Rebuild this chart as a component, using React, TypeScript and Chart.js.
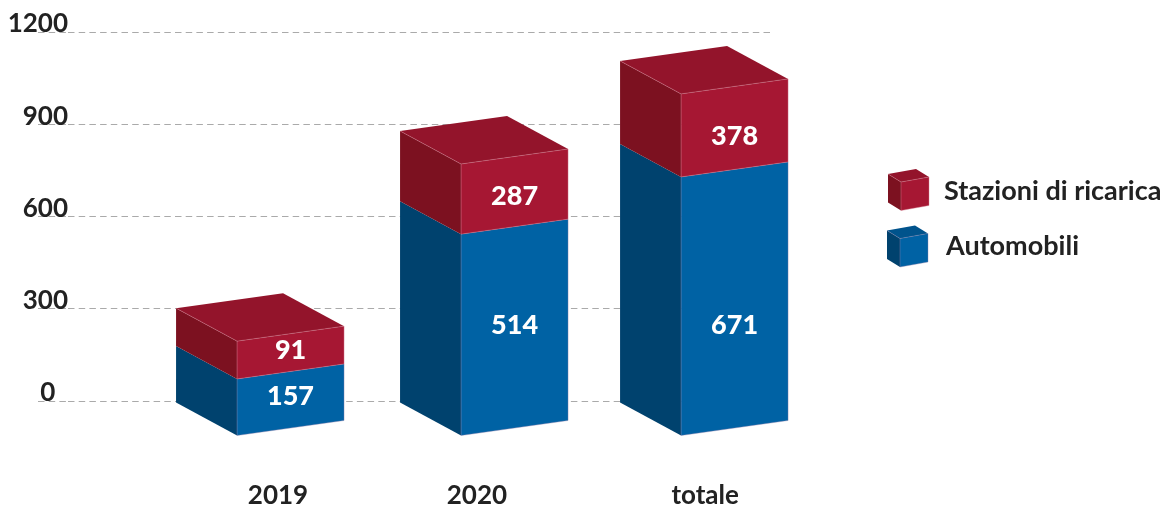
import React, { useEffect, useRef } from "react";
import { Chart, registerables } from "chart.js";

Chart.register(...registerables);

// Category names and where each box / caption sits on the index axis
const categories = ["2019", "2020", "totale"];
const boxPositions = [0, 1.009, 2];
const captionPositions = [0.081, 0.977, 2.005];

// Segment heights as drawn, read against the picture's value axis
const automobiliHeights = [179, 650, 836];
const stazioniHeights = [123, 228, 270];

// Numbers printed on the front faces
const automobiliPrinted = ["157", "514", "671"];
const stazioniPrinted = ["91", "287", "378"];

// Vertical nudge of each printed number from its face centre, in pixels
const automobiliNudge = [-3, -2, 27];
const stazioniNudge = [-2.5, 4.5, 8];

const yTicks = [0, 300, 600, 900, 1200];

const FONT = "Lato";
const TEXT = "#222222";
const palette = {
  Automobili: { front: "#0062a4", side: "#00426e", top: "#00538c", edge: "rgba(150,130,170,0.55)" },
  "Stazioni di ricarica": { front: "#a61733", side: "#7c1120", top: "#93142b", edge: "rgba(215,130,150,0.6)" },
};

type P = [number, number];
function face(ctx: CanvasRenderingContext2D, pts: P[], fill: string) {
  ctx.beginPath();
  pts.forEach((p, i) => (i ? ctx.lineTo(p[0], p[1]) : ctx.moveTo(p[0], p[1])));
  ctx.closePath();
  ctx.fillStyle = fill;
  ctx.fill();
}

function prism(
  ctx: CanvasRenderingContext2D,
  left: number,
  top: number,
  bottom: number,
  d: P,
  w: P,
  c: { front: string; side: string; top: string; edge: string },
  withTop: boolean
) {
  const a: P = [left, top];
  const f: P = [left + d[0], top + d[1]];
  const fb: P = [left + d[0], bottom + d[1]];
  const r: P = [f[0] + w[0], f[1] + w[1]];
  const rb: P = [fb[0] + w[0], fb[1] + w[1]];
  const b: P = [left + w[0], top + w[1]];
  face(ctx, [a, f, fb, [left, bottom]], c.side);
  face(ctx, [f, r, rb, fb], c.front);
  if (withTop) face(ctx, [a, f, r, b], c.top);
  ctx.beginPath();
  ctx.moveTo(fb[0], fb[1]);
  ctx.lineTo(rb[0], rb[1]);
  ctx.lineTo(r[0], r[1]);
  ctx.moveTo(f[0], f[1]);
  ctx.lineTo(fb[0], fb[1]);
  if (withTop) {
    ctx.moveTo(a[0], a[1]);
    ctx.lineTo(f[0], f[1]);
    ctx.lineTo(r[0], r[1]);
  }
  ctx.strokeStyle = c.edge;
  ctx.lineWidth = 0.7;
  ctx.stroke();
}

const DEPTH: P = [61, 33];
const WIDE: P = [107, -15];
const GROUND_DROP = 2;

const boxesPlugin = {
  id: "boxes",
  beforeDatasetsDraw(chart: any) {
    const ctx: CanvasRenderingContext2D = chart.ctx;
    ctx.save();
    const bottomOf = (di: number, el: any) => el.base + (di === 0 ? GROUND_DROP : 0);
    chart.data.datasets.forEach((ds: any, di: number) => {
      const c = (palette as any)[ds.label];
      chart.getDatasetMeta(di).data.forEach((el: any) => {
        prism(ctx, el.x - el.width / 2, el.y, bottomOf(di, el), DEPTH, WIDE, c, di === chart.data.datasets.length - 1);
      });
    });
    ctx.textAlign = "center";
    ctx.textBaseline = "middle";
    ctx.font = `900 27px ${FONT}`;
    ctx.fillStyle = "#ffffff";
    chart.data.datasets.forEach((ds: any, di: number) => {
      chart.getDatasetMeta(di).data.forEach((el: any, i: number) => {
        const left = el.x - el.width / 2;
        const cx = left + DEPTH[0] + WIDE[0] / 2;
        const cy = (el.y + bottomOf(di, el)) / 2 + DEPTH[1] + WIDE[1] / 2 + ds.nudge[i];
        ctx.fillText(ds.printed[i], cx, cy);
      });
    });
    // Legend, top entry first
    const right = chart.chartArea.right;
    [...chart.data.datasets].reverse().forEach((ds: any, i: number) => {
      const c = (palette as any)[ds.label];
      const ox = right + 118 - i;
      const oy = 174 + i * 56.5;
      prism(ctx, ox, oy, oy + 28.5, [13, 8], [28, -5], c, true);
      ctx.fillStyle = TEXT;
      ctx.textAlign = "left";
      ctx.font = `bold 27px ${FONT}`;
      ctx.fillText(ds.label, right + 174 + i * 2, 191 + i * 55);
    });
    ctx.restore();
    return false;
  },
};

export default function App() {
  const ref = useRef<HTMLCanvasElement>(null);
  useEffect(() => {
    const chart = new Chart(ref.current!, {
      type: "bar",
      data: {
        datasets: [
          {
            label: "Automobili",
            data: automobiliHeights.map((y, i) => ({ x: boxPositions[i], y })),
            backgroundColor: palette.Automobili.front,
            printed: automobiliPrinted,
            nudge: automobiliNudge,
            barThickness: 168,
          },
          {
            label: "Stazioni di ricarica",
            data: stazioniHeights.map((y, i) => ({ x: boxPositions[i], y })),
            backgroundColor: palette["Stazioni di ricarica"].front,
            printed: stazioniPrinted,
            nudge: stazioniNudge,
            barThickness: 168,
          },
        ] as any,
      },
      options: {
        animation: false,
        responsive: false,
        layout: { padding: { top: 32, left: 0, right: 396, bottom: 0 } },
        plugins: { legend: { display: false }, tooltip: { enabled: false } },
        scales: {
          x: {
            type: "linear",
            stacked: true,
            offset: false,
            min: -0.865,
            max: 2.297,
            border: { display: false },
            grid: { display: false, drawTicks: false, offset: false },
            afterBuildTicks: (s: any) => {
              s.ticks = captionPositions.map((value) => ({ value }));
            },
            afterFit: (s: any) => {
              s.height = 106;
            },
            ticks: {
              autoSkip: false,
              maxRotation: 0,
              padding: 79,
              color: TEXT,
              font: { family: FONT, weight: "bold", size: 26 },
              callback: (_v: any, i: number) => categories[i],
            },
          },
          y: {
            stacked: true,
            min: 0,
            max: 1200,
            border: { display: false, dash: [6.5, 4.2] },
            afterBuildTicks: (s: any) => {
              s.ticks = yTicks.map((value) => ({ value }));
            },
            afterFit: (s: any) => {
              s.width = 68;
            },
            grid: {
              color: "#aaaaaa",
              lineWidth: 1,
              drawTicks: true,
              tickLength: 30,
              tickColor: "#aaaaaa",
              tickBorderDash: [6.5, 4.2],
            },
            ticks: {
              padding: -30,
              labelOffset: -8,
              color: TEXT,
              font: { family: FONT, weight: "bold", size: 26 },
              callback: (v: any) => (v === 0 ? "0  " : String(v)),
            },
          },
        },
      } as any,
      plugins: [boxesPlugin],
    } as any);
    return () => chart.destroy();
  }, []);
  return (
    <div style={{ position: "fixed", left: 0, top: 0, width: 1166, height: 507, background: "#fff" }}>
      <canvas ref={ref} width={1166} height={507} style={{ display: "block" }} />
    </div>
  );
}
